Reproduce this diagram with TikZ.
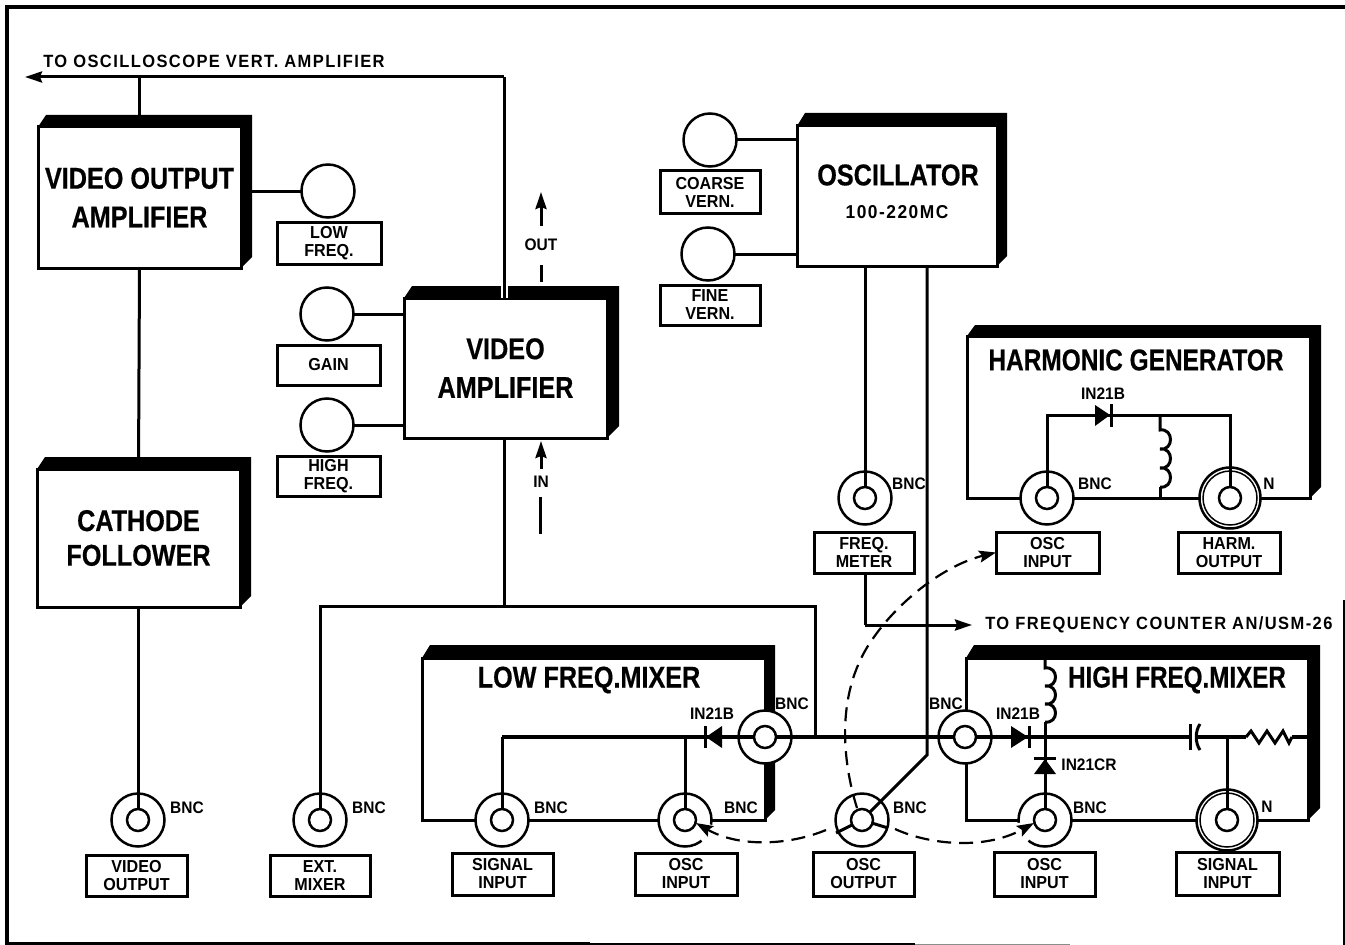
\documentclass[tikz,border=0pt]{standalone}
\usepackage{fontspec}
\usetikzlibrary{calc,arrows.meta}
\setmainfont{Liberation Sans}
\newfontfamily\ttlfont[FakeStretch=0.84,FakeBold=0.5]{Liberation Sans Bold}
\newfontfamily\labfont[FakeStretch=0.93]{Liberation Sans Bold}
\newfontfamily\widefont[FakeStretch=0.93,LetterSpace=8]{Liberation Sans Bold}
\def\u{0.75pt}
\tikzset{
 conn/.style={line width=3*\u},
 heavy/.style={line width=4*\u},
 blockbox/.style={draw,fill=white,line width=3*\u,inner sep=0,outer sep=0,align=center,font=\ttlfont\fontsize{22.5}{29}\selectfont},
 labbox/.style={draw,fill=white,line width=3*\u,inner sep=0,outer sep=0,align=center,font=\labfont\fontsize{13}{13.5}\selectfont},
 ring/.style={draw,fill=white,circle,line width=2.5*\u,inner sep=0,outer sep=0,minimum size=53*\u},
 nring/.style={ring,minimum size=61*\u},
 nthin/.style={draw,circle,line width=1.5*\u,inner sep=0,outer sep=0,minimum size=54*\u},
 core/.style={draw,fill=white,circle,line width=2.5*\u,inner sep=0,outer sep=0,minimum size=22*\u},
 small/.style={inner sep=0,font=\labfont\fontsize{12.5}{13.5}\selectfont},
 title/.style={inner sep=0,font=\ttlfont\fontsize{22.5}{29}\selectfont},
 dashline/.style={line width=2.2*\u,dash pattern=on 14*\u off 8*\u},
 tip/.style={-{Stealth[length=17*\u,width=11*\u,inset=2*\u]}},
 dashtip/.style={-{Stealth[length=17*\u,width=12*\u,inset=3*\u]}},
}
\newcommand{\blk}[6]{\node[blockbox,minimum width={(#4-#2)*\u},minimum height={(#5-#3)*\u}] (#1) at ({(#2+#4)/2},{(#3+#5)/2}) {#6};}
\newcommand{\shad}[3]{\fill (#1.north west) -- ($(#1.north west)+(8,-#3)$) -- ($(#1.north east)+(#2,-#3)$) -- ($(#1.south east)+(#2,-#2)$) -- (#1.south east) -- (#1.north east) -- cycle;}
\newcommand{\lab}[6]{\node[labbox,minimum width={(#4-#2)*\u},minimum height={(#5-#3)*\u}] (#1) at ({(#2+#4)/2},{(#3+#5)/2}) {#6};}
\newcommand{\coil}[4]{\draw[conn] (#1,#2) -- ++(0,#3)
  .. controls +(14,-2) and +(14,2) .. ++(0,#4)
  .. controls +(14,-2) and +(14,2) .. ++(0,#4)
  .. controls +(14,-2) and +(14,2) .. ++(0,#4);}
\begin{document}
\begin{tikzpicture}[x=0.75pt,y=-0.75pt]
\useasboundingbox (0,0) rectangle (1345,945);
\fill[white] (0,0) rectangle (1345,945);
\draw[line width=4*\u] (1345,7) -- (7,7) -- (7,945);
\draw[line width=3*\u] (7,943.5) -- (590,943.5);
\draw[line width=1.5*\u] (590,944.2) -- (915,944.2);
\draw[line width=1*\u,black!45] (915,944.5) -- (1070,944.5);
\draw[line width=2*\u] (1344,600) -- (1344,945);

% blocks
\blk{vo}{38}{127}{241}{268}{VIDEO OUTPUT\\AMPLIFIER}\shad{vo}{11}{12}
\blk{cf}{37}{469}{240}{607}{\raisebox{-3pt}{CATHODE}\\FOLLOWER}\shad{cf}{11}{12}
\blk{vamp}{404}{298}{607}{438}{VIDEO\\AMPLIFIER}\shad{vamp}{12}{12}
\blk{osc}{797}{126}{997}{266}{}\shad{osc}{10}{13}
\blk{harm}{967}{336}{1310}{498}{}\shad{harm}{11}{11}
\blk{lomix}{422}{658}{765}{820}{}\shad{lomix}{10}{13}
\blk{himix}{966}{658}{1308}{820}{}\shad{himix}{12}{13}

\node[title] (osct) at (898,175) {OSCILLATOR};
\node[small,font=\widefont\fontsize{14}{15}\selectfont] (oscf) at (897,212) {100-220MC};
\node[title] (harmt) at (1136,360) {\scalebox{.97}[1]{HARMONIC GENERATOR}};
\node[title] (lomixt) at (589,680) {LOW FREQ.MIXER};
\node[title] (himixt) at (1177,680) {\scalebox{.96}[1]{HIGH FREQ.MIXER}};

% knobs and connector rings
\node[ring] (klow) at (328,191) {};
\node[ring] (kgain) at (327,314) {};
\node[ring] (khigh) at (327,425) {};
\node[ring] (kcoarse) at (710,140) {};
\node[ring] (kfine) at (708,254) {};
\node[ring] (cvid) at (138,820) {};
\node[ring] (cext) at (320,820) {};
\node[ring] (csig) at (502,820) {};
\node[ring] (clo) at (685,820) {};
\node[ring] (cout) at (862,820) {};
\node[ring] (chi) at (1045,820) {};
\node[nring] (cnsig) at (1227,820) {};
\node[nthin] (cnsigb) at (1227,820) {};
\node[ring] (clotop) at (765,737) {};
\node[ring] (chitop) at (965,737) {};
\node[ring] (cfm) at (865,498) {};
\node[ring] (charm) at (1047,498) {};
\node[nring] (cnharm) at (1230,498) {};
\node[nthin] (cnharmb) at (1230,498) {};

% gaps in the two OSC INPUT rings
\draw[white,line width=6*\u] ($(clo.center)+(27,5)$) .. controls ($(clo.center)+(26,12)$) and ($(clo.center)+(22,18)$) .. ($(clo.center)+(17,21)$);
\draw[white,line width=6*\u] ($(chi.center)+(-27,3)$) .. controls ($(chi.center)+(-26,12)$) and ($(chi.center)+(-22,18)$) .. ($(chi.center)+(-17,21)$);

% named junctions
\coordinate (topj) at (504,77);
\coordinate (oscend) at (25,77);
\coordinate (botj) at (504,606);
\coordinate (xm1) at (320,606);
\coordinate (xm2) at (815,606);
\coordinate (mainl) at (502,737);
\coordinate (capl) at (1190,737);
\coordinate (capr) at (1198,737);
\coordinate (resl) at (1246,737);
\coordinate (resr) at (1292,737);
\coordinate (bend) at (927,755);
\coordinate (cnt) at (972,625);
\coordinate (sp1) at (836,833);
\coordinate (sp2) at (888,828);
\coordinate (hj1) at (1047,415);
\coordinate (hj2) at (1230,415);
\coordinate (outa) at (541,282);
\coordinate (outb) at (541,265);
\coordinate (outc) at (541,226);
\coordinate (outd) at (541,192);
\coordinate (ina) at (540,534);
\coordinate (inb) at (540,497);
\coordinate (inc) at (541,469);
\coordinate (ind) at (541,441);

% connectors
\draw[white,line width=7*\u] (topj |- vamp.north) -- ++(0,-12);
\draw[conn] (topj |- vamp.north) -- (topj);
\draw[conn,tip] (topj) -- (oscend);
\draw[conn] (vo.north) -- (vo.north |- topj);
\draw[conn] (vo.south) -- (cf.north);
\draw[conn] (cf.south -| cvid) -- (cvid.center);
\draw[conn] (klow.west) -- (klow.west -| vo.east);
\draw[conn] (kgain.east) -- (kgain.east -| vamp.west);
\draw[conn] (khigh.east) -- (khigh.east -| vamp.west);
\draw[conn] (kcoarse.east) -- (kcoarse.east -| osc.west);
\draw[conn] (kfine.east) -- (kfine.east -| osc.west);
\draw[conn] (botj |- vamp.south) -- (botj);
\draw[conn] (cext.center) -- (xm1) -- (xm2) -- (xm2 |- mainl);
\draw[heavy] (mainl) -- (capl);
\draw[heavy] (capr) -- (resl);
\draw[heavy] (resr) -- (himix.east |- resr);
\draw[conn] (resl) -- ++(5,-6) -- ++(8,12) -- ++(8,-12) -- ++(8,12) -- ++(8,-12) -- ++(6,12) -- (resr);
\draw[conn] (capl) ++(0,-13) -- ++(0,26);
\draw[conn] (capr) ++(2,-13) .. controls +(-5,7) and +(-5,-7) .. ++(0,26);
\draw[conn] (mainl) -- (csig.center);
\draw[conn] (clo.center |- mainl) -- (clo.center);
\draw[conn] (cnsig.center |- resl) -- (cnsig.center);
\draw[conn] (chi.center |- mainl) -- (chi.center);
\draw[conn] (cfm.center) -- (cfm.center |- osc.south);
\draw[conn] (cout.center) -- (bend) -- (bend |- osc.south);
\draw[conn] (cout.center) -- (sp1);
\draw[conn] (cout.center) -- (sp2);
\draw[conn] (cfm.center |- cnt) -- ++(0,-52);
\draw[conn,tip] (cnt -| cfm.center) -- (cnt);
\draw[conn] (charm.center) -- (hj1) -- (hj2) -- (cnharm.center);
\coil{1045}{658}{10}{18}
\draw[conn] (1045,722) -- (1045,737);
\coil{1160}{415}{15}{19}
\draw[conn] (1160,487) -- (1160,498);
\draw[conn] (outa) -- (outb);
\draw[conn,tip] (outc) -- (outd);
\draw[conn] (ina) -- (inb);
\draw[conn,tip] (inc) -- (ind);

% diodes
\fill (722,726) -- (722,748) -- (706,737) -- cycle; \draw[conn] (705,726) -- (705,748);
\fill (1011,726) -- (1011,748) -- (1028,737) -- cycle; \draw[conn] (1029,726) -- (1029,748);
\fill (1034,774) -- (1056,774) -- (1045,759) -- cycle; \draw[conn] (1034,758) -- (1056,758);
\fill (1095,405) -- (1095,426) -- (1110,415) -- cycle; \draw[conn] (1111,404) -- (1111,427);

% cores
\foreach \c/\n in {cvid/a,cext/b,csig/c,clo/d,cout/e,chi/f,cnsig/g,clotop/h,chitop/i,cfm/j,charm/k,cnharm/l}
  \node[core] (core\n) at (\c.center) {};

% labels
\lab{lLow}{277}{222}{381}{264}{LOW\\FREQ.}
\lab{lGain}{277}{345}{380}{385}{GAIN}
\lab{lHigh}{277}{456}{380}{496}{HIGH\\FREQ.}
\lab{lCoarse}{660}{171}{760}{213}{COARSE\\VERN.}
\lab{lFine}{660}{285}{760}{325}{FINE\\VERN.}
\lab{lVid}{86}{855}{187}{896}{VIDEO\\OUTPUT}
\lab{lExt}{270}{855}{370}{896}{EXT.\\MIXER}
\lab{lSig}{452}{853}{553}{895}{SIGNAL\\INPUT}
\lab{lOscA}{635}{853}{737}{895}{OSC\\INPUT}
\lab{lOut}{813}{852}{914}{896}{OSC\\OUTPUT}
\lab{lOscB}{994}{852}{1095}{896}{OSC\\INPUT}
\lab{lSigB}{1176}{852}{1279}{895}{SIGNAL\\INPUT}
\lab{lFm}{814}{532}{914}{573}{FREQ.\\METER}
\lab{lOscC}{996}{532}{1099}{573}{OSC\\INPUT}
\lab{lHarm}{1178}{532}{1280}{573}{HARM.\\OUTPUT}

% dashed routes
\draw[dashline,dashtip] (cout.center) ++(-5,-12) .. controls (842,760) and (835,690) .. (874,637) .. controls (900,600) and (945,565) .. (lOscC.west);
\draw[dashline,dashtip] ($(cout.center)+(-36,10)$) .. controls (790,845) and (740,848) .. ($(clo.center)+(11,3)$);
\draw[dashline,dashtip] ($(cout.center)+(33,9)$) .. controls (930,845) and (985,850) .. ($(chi.center)+(-11,3)$);

% text
\node[small,anchor=west,font=\widefont\fontsize{13.3}{14}\selectfont] (t1) at (43,61) {TO OSCILLOSCOPE VERT. AMPLIFIER};
\node[small,anchor=west,font=\widefont\fontsize{13.3}{14}\selectfont] (t2) at (985,625) {TO FREQUENCY COUNTER AN/USM-26};
\node[small] (tout) at (541,245) {OUT};
\node[small] (tin) at (541,482) {IN};
\node[small] (b1) at (187,808) {BNC};
\node[small] (b2) at (369,808) {BNC};
\node[small] (b3) at (551,808) {BNC};
\node[small] (b4) at (741,808) {BNC};
\node[small] (b5) at (910,808) {BNC};
\node[small] (b6) at (1090,808) {BNC};
\node[small] (b7) at (1267,807) {N};
\node[small] (b8) at (792,704) {BNC};
\node[small] (b9) at (946,704) {BNC};
\node[small] (b10) at (909,484) {BNC};
\node[small] (b11) at (1095,484) {BNC};
\node[small] (b12) at (1269,484) {N};
\node[small] (d1) at (712,714) {IN21B};
\node[small] (d2) at (1018,714) {IN21B};
\node[small] (d3) at (1089,765) {IN21CR};
\node[small] (d4) at (1103,394) {IN21B};
\end{tikzpicture}
\end{document}
